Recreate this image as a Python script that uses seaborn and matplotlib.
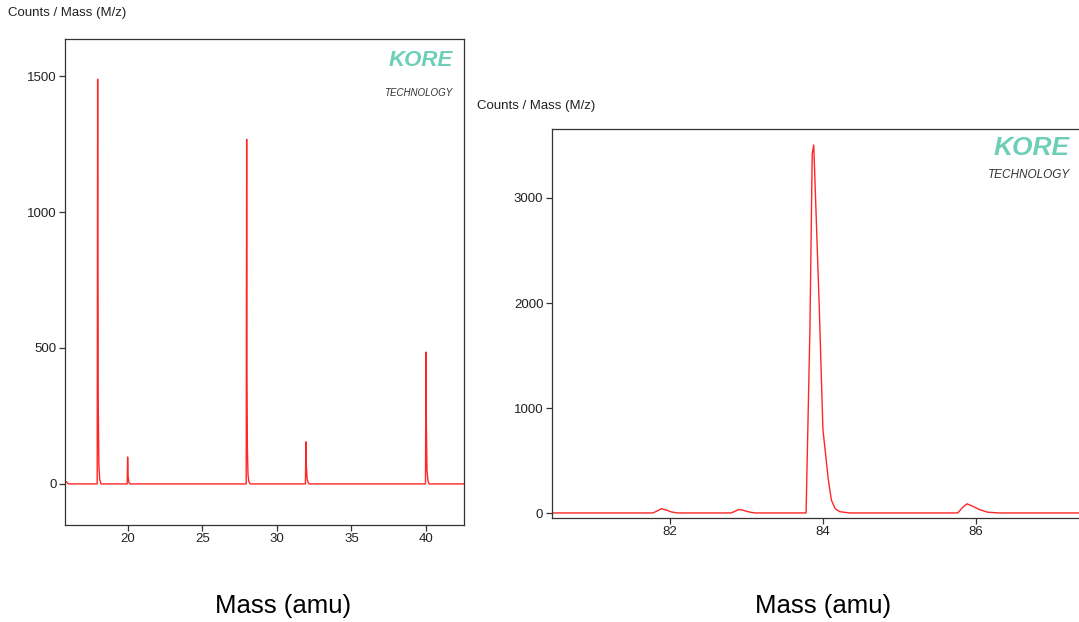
import pandas as pd
import matplotlib
matplotlib.use('Agg')
import matplotlib.pyplot as plt
import seaborn as sns

# Trace vertices (mass in amu, counts)
left_mass = [15.82, 15.90, 15.97, 16.05, 17.96, 17.99, 18.00, 18.03, 18.07, 18.13, 18.22,
             19.97, 20.00, 20.03, 20.08, 20.16, 27.95, 27.98, 28.00, 28.03, 28.07, 28.13, 28.22,
             31.92, 31.95, 31.98, 32.03, 32.10, 32.18, 39.97, 40.00, 40.03, 40.07, 40.14, 40.22, 42.55]
left_counts = [6, 8, 3, 0, 0, 1489, 934, 300, 70, 15, 0,
               0, 99, 30, 6, 0, 0, 1268, 400, 130, 35, 8, 0,
               0, 155, 70, 20, 5, 0, 0, 485, 210, 50, 10, 0, 0]

right_mass = [80.46, 81.78, 81.84, 81.89, 81.95, 82.02, 82.10, 82.80, 82.85, 82.90, 82.96,
              83.05, 83.12, 83.78, 83.83, 83.86, 83.88, 83.95, 84.00, 84.07, 84.11, 84.16,
              84.22, 84.35, 85.76, 85.82, 85.88, 85.95, 86.05, 86.15, 86.30, 87.40]
right_counts = [5, 5, 25, 45, 35, 15, 5, 5, 20, 38, 30,
                12, 5, 5, 1750, 3420, 3504, 2005, 798, 323, 128, 45,
                17, 5, 5, 55, 92, 70, 35, 12, 5, 5]

left_xticks = [20, 25, 30, 35, 40]
left_yticks = [0, 500, 1000, 1500]
right_xticks = [82, 84, 86]
right_yticks = [0, 1000, 2000, 3000]

df_left = pd.DataFrame({'mass': left_mass, 'counts': left_counts})
df_right = pd.DataFrame({'mass': right_mass, 'counts': right_counts})

sns.set_theme(style='ticks')
plt.rcParams['font.family'] = ['Liberation Sans', 'DejaVu Sans']

fig = plt.figure(figsize=(10.79, 6.22), dpi=100)
ax1 = fig.add_axes([0.0605, 0.156, 0.3695, 0.781])
ax2 = fig.add_axes([0.5113, 0.1672, 0.4907, 0.6254])

teal = '#6dcfb6'
spine_col = '#333333'

for ax, df, xl, yl, xt, yt in [
        (ax1, df_left, (15.82, 42.55), (-151, 1636), left_xticks, left_yticks),
        (ax2, df_right, (80.46, 87.37), (-43, 3656), right_xticks, right_yticks)]:
    sns.lineplot(data=df, x='mass', y='counts', ax=ax, color='red', lw=1.0,
                 alpha=0.85, estimator=None, sort=False)
    ax.set_xlim(*xl)
    ax.set_ylim(*yl)
    ax.set_xticks(xt)
    ax.set_yticks(yt)
    ax.set_xlabel('')
    ax.set_ylabel('')
    ax.tick_params(direction='out', length=4, width=0.9, color=spine_col,
                   labelsize=9.5, labelcolor='#222222', pad=2)
    for s in ax.spines.values():
        s.set_color(spine_col)
        s.set_linewidth(0.9)

# logos
ax1.text(0.972, 0.957, 'KORE', transform=ax1.transAxes, ha='right', va='center',
         fontsize=16, fontweight='heavy', fontstyle='italic', color=teal)
ax1.text(0.972, 0.889, 'TECHNOLOGY', transform=ax1.transAxes, ha='right', va='center',
         fontsize=7, fontstyle='italic', color='#333333')
ax2.text(0.979, 0.950, 'KORE', transform=ax2.transAxes, ha='right', va='center',
         fontsize=19, fontweight='heavy', fontstyle='italic', color=teal)
ax2.text(0.979, 0.883, 'TECHNOLOGY', transform=ax2.transAxes, ha='right', va='center',
         fontsize=8.5, fontstyle='italic', color='#333333')

# axis titles
fig.text(8 / 1079, 1 - 13 / 622, 'Counts / Mass (M/z)', ha='left', va='center',
         fontsize=9.5, color='#222222')
fig.text(477 / 1079, 1 - 106 / 622, 'Counts / Mass (M/z)', ha='left', va='center',
         fontsize=9.5, color='#222222')
fig.text(283 / 1079, 1 - 606 / 622, 'Mass (amu)', ha='center', va='center',
         fontsize=18.5, color='black')
fig.text(823 / 1079, 1 - 606 / 622, 'Mass (amu)', ha='center', va='center',
         fontsize=18.5, color='black')

fig.savefig('out.png', dpi=100)
